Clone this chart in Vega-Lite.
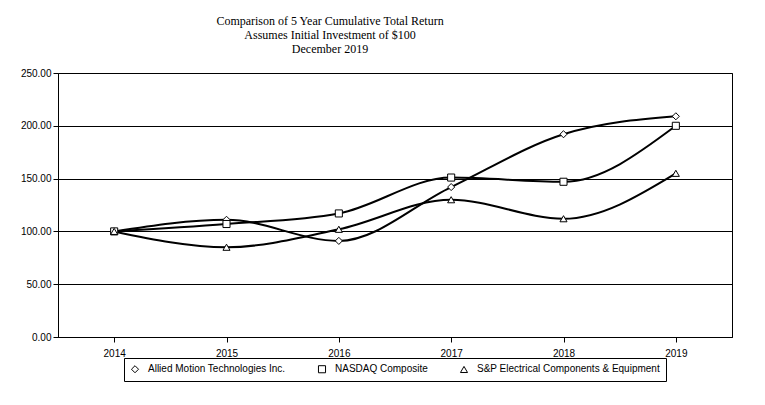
{
  "$schema": "https://vega.github.io/schema/vega-lite/v6.json",
  "autosize": "none",
  "width": 674,
  "height": 264,
  "padding": {"left": 58, "top": 73, "right": 33, "bottom": 68},
  "background": "white",
  "title": {
    "text": ["Comparison of 5 Year Cumulative Total Return", "Assumes Initial Investment of $100", "December 2019"],
    "font": "Liberation Serif",
    "fontSize": 12,
    "fontWeight": "normal",
    "lineHeight": 14,
    "anchor": "middle",
    "dx": -65,
    "offset": 12
  },
  "data": {
    "values": [
      {"year": "2014", "series": "Allied Motion Technologies Inc.", "value": 100},
      {"year": "2015", "series": "Allied Motion Technologies Inc.", "value": 111},
      {"year": "2016", "series": "Allied Motion Technologies Inc.", "value": 91},
      {"year": "2017", "series": "Allied Motion Technologies Inc.", "value": 142},
      {"year": "2018", "series": "Allied Motion Technologies Inc.", "value": 192},
      {"year": "2019", "series": "Allied Motion Technologies Inc.", "value": 209},
      {"year": "2014", "series": "NASDAQ Composite", "value": 100},
      {"year": "2015", "series": "NASDAQ Composite", "value": 107},
      {"year": "2016", "series": "NASDAQ Composite", "value": 117},
      {"year": "2017", "series": "NASDAQ Composite", "value": 151},
      {"year": "2018", "series": "NASDAQ Composite", "value": 147},
      {"year": "2019", "series": "NASDAQ Composite", "value": 200},
      {"year": "2014", "series": "S&P Electrical Components & Equipment", "value": 100},
      {"year": "2015", "series": "S&P Electrical Components & Equipment", "value": 85},
      {"year": "2016", "series": "S&P Electrical Components & Equipment", "value": 102},
      {"year": "2017", "series": "S&P Electrical Components & Equipment", "value": 130},
      {"year": "2018", "series": "S&P Electrical Components & Equipment", "value": 112},
      {"year": "2019", "series": "S&P Electrical Components & Equipment", "value": 155}
    ]
  },
  "encoding": {
    "x": {
      "field": "year", "type": "ordinal", "title": null,
      "scale": {"type": "point", "padding": 0.5},
      "axis": {"labelAngle": 0, "labelFont": "Liberation Sans", "labelFontSize": 10, "labelColor": "black", "domainColor": "black", "tickColor": "black", "labelPadding": 6}
    },
    "y": {
      "field": "value", "type": "quantitative", "title": null,
      "scale": {"domain": [0, 250]},
      "axis": {"values": [0, 50, 100, 150, 200, 250], "format": ".2f", "grid": true, "gridColor": "black", "gridOpacity": 1, "domainColor": "black", "domainDash": [3, 2], "tickColor": "black", "labelFont": "Liberation Sans", "labelFontSize": 10, "labelColor": "black"}
    }
  },
  "layer": [
    {
      "mark": {"type": "line", "interpolate": "monotone", "color": "black", "strokeWidth": 2},
      "encoding": {"detail": {"field": "series"}}
    },
    {
      "mark": {"type": "point", "filled": false, "fill": "white", "fillOpacity": 1, "strokeWidth": 1, "size": 50, "opacity": 1},
      "encoding": {
        "color": {
          "field": "series", "type": "nominal", "title": null,
          "scale": {"domain": ["Allied Motion Technologies Inc.", "NASDAQ Composite", "S&P Electrical Components & Equipment"], "range": ["black", "black", "black"]}
        },
        "shape": {
          "field": "series", "type": "nominal", "title": null,
          "scale": {"domain": ["Allied Motion Technologies Inc.", "NASDAQ Composite", "S&P Electrical Components & Equipment"], "range": ["diamond", "square", "triangle-up"]}
        }
      }
    }
  ],
  "config": {
    "view": {"stroke": "black"},
    "axis": {"ticks": true},
    "legend": {
      "orient": "none", "direction": "horizontal", "legendX": 66, "legendY": 285,
      "strokeColor": "black", "padding": 6, "labelFont": "Liberation Sans", "labelFontSize": 10,
      "labelColor": "black", "labelLimit": 0, "columnPadding": 30, "labelOffset": 8, "symbolStrokeWidth": 1, "symbolSize": 50
    }
  }
}
